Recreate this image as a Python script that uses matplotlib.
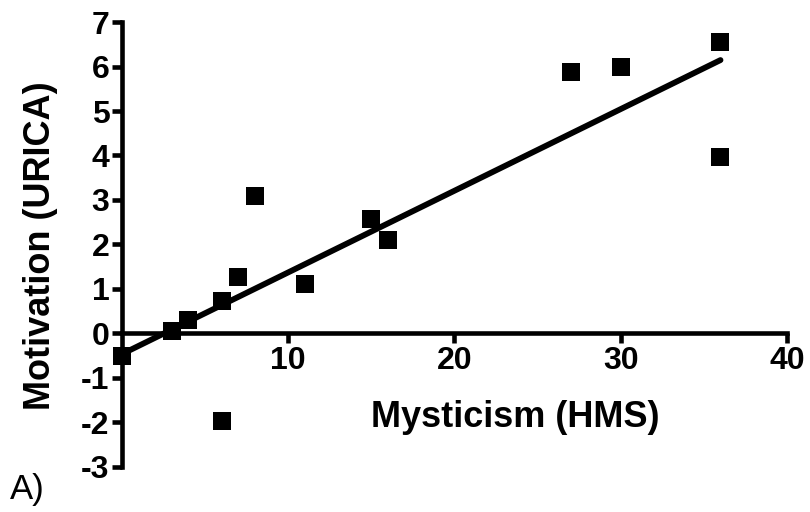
import matplotlib
matplotlib.use("Agg")
import matplotlib.pyplot as plt
import numpy as np

plt.rcParams['font.family'] = ['Liberation Sans', 'DejaVu Sans']
plt.rcParams['axes.unicode_minus'] = False

# HMS mysticism score vs URICA motivation
hms = np.array([0, 3, 4, 6, 6, 7, 8, 11, 15, 16, 27, 30, 36, 36])
urica = np.array([-0.5, 0.05, 0.3, 0.72, -1.97, 1.28, 3.1, 1.12, 2.58, 2.09,
                  5.87, 6.0, 6.55, 3.96])

x_ticks = [10, 20, 30, 40]
y_ticks = [-3, -2, -1, 0, 1, 2, 3, 4, 5, 6, 7]


def main():
    fig = plt.figure(figsize=(8.1, 5.12), dpi=100)
    ax = fig.add_axes([0.1506, 0.088, 0.8210, 0.869])

    ax.scatter(hms, urica, marker='s', s=185, color='black', linewidths=0,
               zorder=3, clip_on=False)

    slope, intercept = np.polyfit(hms, urica, 1)
    fit_x = np.array([hms.min(), hms.max()])
    ax.plot(fit_x, slope * fit_x + intercept, color='black', lw=4.2,
            solid_capstyle='round', zorder=2)

    ax.set_xlim(0, 40)
    ax.set_ylim(-3, 7)
    ax.spines['top'].set_visible(False)
    ax.spines['right'].set_visible(False)
    ax.spines['bottom'].set_position(('data', 0))
    ax.spines['left'].set_position(('data', 0))
    for side in ['bottom', 'left']:
        ax.spines[side].set_linewidth(3.3)
        ax.spines[side].set_capstyle('projecting')

    ax.set_xticks(x_ticks)
    ax.set_yticks(y_ticks)
    ax.tick_params(width=3.3, length=7, labelsize=23, pad=2)
    for lbl in ax.get_xticklabels() + ax.get_yticklabels():
        lbl.set_fontweight('bold')

    fig.text(0.636, 0.184, 'Mysticism (HMS)', ha='center', va='center',
             fontsize=26, fontweight='bold')
    fig.text(0.05, 0.52, 'Motivation (URICA)', ha='center', va='center',
             rotation=90, fontsize=26, fontweight='bold')
    fig.text(0.012, 0.043, 'A)', ha='left', va='center', fontsize=25)

    fig.savefig('out.png', dpi=100)


if __name__ == "__main__":
    main()
